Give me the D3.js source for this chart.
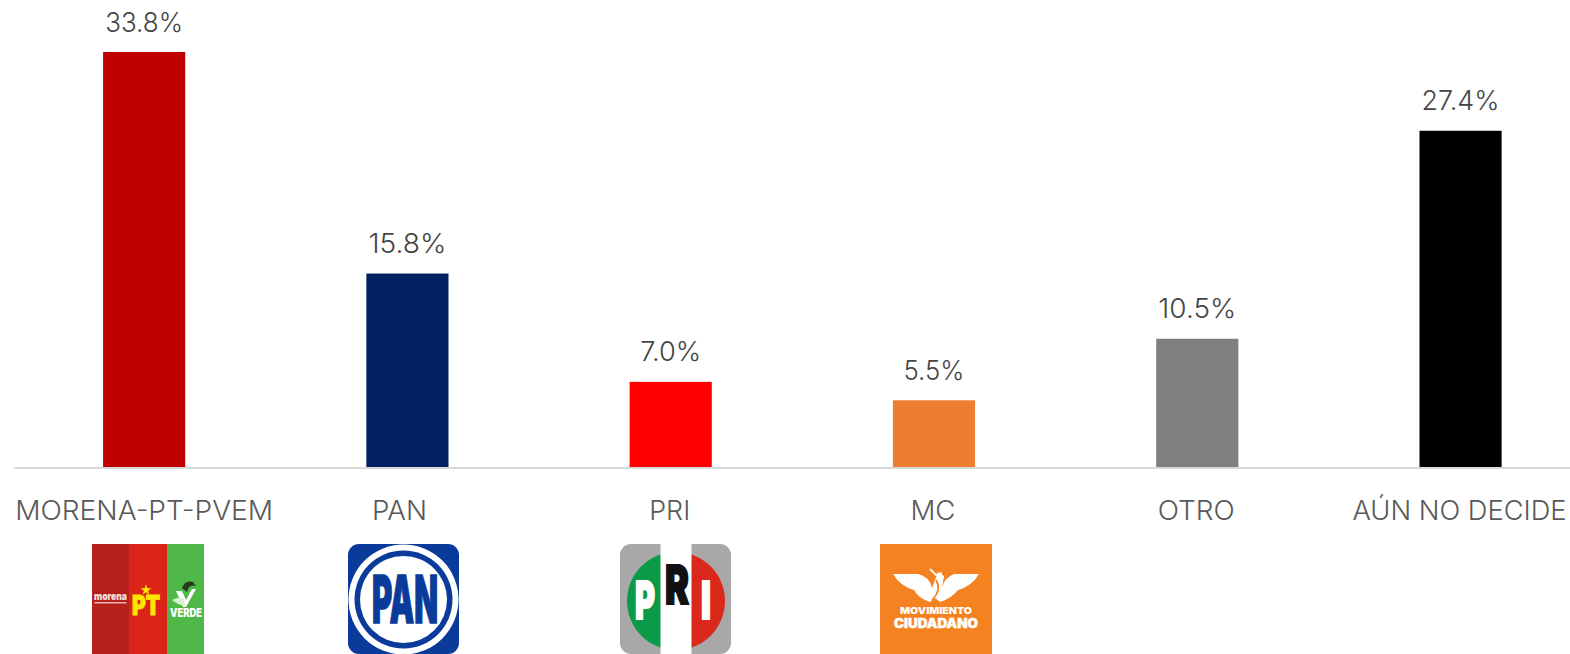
<!DOCTYPE html>
<html><head><meta charset="utf-8">
<script src="https://cdn.jsdelivr.net/npm/d3@7/dist/d3.min.js"></script>
<style>html,body{margin:0;background:#fff;overflow:hidden}svg{display:block}text{font-family:Inter,Lato,"Noto Sans",sans-serif}</style>
</head><body><svg id="c" width="1570" height="654"></svg>
<script>
const categories = ["MORENA-PT-PVEM","PAN","PRI","MC","OTRO","AÚN NO DECIDE"];
const values = [33.8,15.8,7.0,5.5,10.5,27.4];
const barColors = ["#c00000","#002060","#ff0000","#ed7d31","#7f7f7f","#000000"];

const svg = d3.select("#c");
const x = d3.scaleBand().domain(categories).range([12.5,1592.2]).paddingInner(0.688).paddingOuter(0.344);
const y = d3.scaleLinear().domain([0,33.8]).range([468,52]);
const cx = c => x(c)+x.bandwidth()/2;

svg.selectAll("rect.bar").data(categories).join("rect").attr("class","bar")
  .attr("x",d=>x(d)).attr("width",x.bandwidth())
  .attr("y",(d,i)=>y(values[i])).attr("height",(d,i)=>y(0)-y(values[i]))
  .attr("fill",(d,i)=>barColors[i]);

svg.append("line").attr("x1",14).attr("x2",1570).attr("y1",468).attr("y2",468)
  .attr("stroke","#d9d9d9").attr("stroke-width",2);

svg.selectAll("text.val").data(categories).join("text").attr("class","val")
  .attr("x",cx).attr("y",(d,i)=>y(values[i])-20.5)
  .attr("text-anchor","middle").attr("font-size",27).attr("font-weight",300).attr("fill","#454545")
  .attr("textLength",(d,i)=>values[i]>=10?78:61).attr("lengthAdjust","spacingAndGlyphs")
  .text((d,i)=>values[i].toFixed(1)+"%");

const labelShift = {"PAN":-8,"PRI":-1,"MC":-1,"OTRO":-1,"AÚN NO DECIDE":-1};
const labelWidths = [258,55,41,45,77,214];
svg.selectAll("text.cat").data(categories).join("text").attr("class","cat")
  .attr("x",d=>cx(d)+(labelShift[d]||0)).attr("y",520)
  .attr("text-anchor","middle").attr("font-size",26.5).attr("font-weight",300).attr("fill","#595959")
  .attr("textLength",(d,i)=>labelWidths[i]).attr("lengthAdjust","spacingAndGlyphs")
  .text(d=>d);

const fit = (g,t,x0,x1,base,fs,fill,sw)=>g.append("text").attr("x",(x0+x1)/2).attr("y",base).attr("text-anchor","middle")
  .attr("font-size",fs).attr("font-weight",900).attr("fill",fill).attr("stroke",sw?fill:"none").attr("stroke-width",sw||0)
  .attr("font-family","Roboto,Inter,sans-serif")
  .attr("textLength",x1-x0).attr("lengthAdjust","spacingAndGlyphs").text(t);

// MORENA-PT-VERDE logo
const l1 = svg.append("g").attr("transform","translate(92,544)");
l1.append("rect").attr("width",37).attr("height",110).attr("fill","#b5211a");
l1.append("rect").attr("x",37).attr("width",38).attr("height",110).attr("fill","#db2317");
l1.append("rect").attr("x",75).attr("width",37).attr("height",110).attr("fill","#50b848");
fit(l1,"morena",2,35,56,11,"#f4e0dd");
l1.append("rect").attr("x",2.5).attr("y",58).attr("width",32).attr("height",1.5).attr("fill","#e8b5b0");
fit(l1,"PT",40,68,71,27,"#ffe600",1);
l1.append("path").attr("transform","translate(54,46)").attr("d",d3.symbol(d3.symbolStar,38)).attr("fill","#ffe600");
fit(l1,"VERDE",78,110,73,11.5,"#fff");
l1.append("path").attr("d","M84 47L90 47L94 56L100 45L104 45L94 63L91 63Z").attr("fill","#fff");
l1.append("path").attr("d","M80 56Q88 52 92 55L93 62Q86 61 80 56Z").attr("fill","#d7efd2");
l1.append("path").attr("d","M90 44Q93 36 101 38L104 42Q97 40 95 48Z").attr("fill","#263a1c");

// PAN logo
const l2 = svg.append("g").attr("transform","translate(348,544)");
l2.append("rect").attr("width",111).attr("height",110).attr("rx",11).attr("fill","#0a3a9a");
l2.append("circle").attr("cx",55.5).attr("cy",55.5).attr("r",55).attr("fill","#fff");
l2.append("circle").attr("cx",55.5).attr("cy",55.5).attr("r",49).attr("fill","#0a3a9a");
l2.append("circle").attr("cx",55.5).attr("cy",55.5).attr("r",43.5).attr("fill","#fff");
fit(l2,"PAN",24,90,79,66,"#0a3a9a",1.5);

// PRI logo
const l3 = svg.append("g").attr("transform","translate(620,544)");
l3.append("rect").attr("width",111).attr("height",110).attr("rx",11).attr("fill","#a8a8a8");
const arc = d3.arc().innerRadius(0).outerRadius(49);
l3.append("path").attr("transform","translate(56,57)").attr("d",arc({startAngle:-Math.PI,endAngle:0})).attr("fill","#0a9a48");
l3.append("path").attr("transform","translate(56,57)").attr("d",arc({startAngle:0,endAngle:Math.PI})).attr("fill","#da291c");
l3.append("rect").attr("x",40.5).attr("width",31).attr("height",110).attr("fill","#fff");
fit(l3,"P",15,35,75,52,"#fff",2);
fit(l3,"R",45,69,60,54,"#111",2);
fit(l3,"I",81,91,75,52,"#fff",2);

// Movimiento Ciudadano logo
const l4 = svg.append("g").attr("transform","translate(880,544)");
l4.append("rect").attr("width",112).attr("height",110).attr("fill","#f58220");
l4.append("path").attr("d","M13 30L38 30Q50 33 52 44L58 28L64 32L62 44Q64 34 74 30L99 30Q92 42 78 46Q72 54 60 58L55 54L50 58Q38 54 34 46Q20 42 13 30Z").attr("fill","#fff");
l4.append("path").attr("d","M56 36Q62 46 52 56").attr("fill","none").attr("stroke","#f58220").attr("stroke-width",1.6);
l4.append("path").attr("d","M50 25L56 31L62 29").attr("fill","none").attr("stroke","#fff").attr("stroke-width",1.8);
fit(l4,"MOVIMIENTO",20,92,69.5,9.5,"#fff");
fit(l4,"CIUDADANO",14,98,84,12.5,"#fff",0.4);
</script></body></html>
